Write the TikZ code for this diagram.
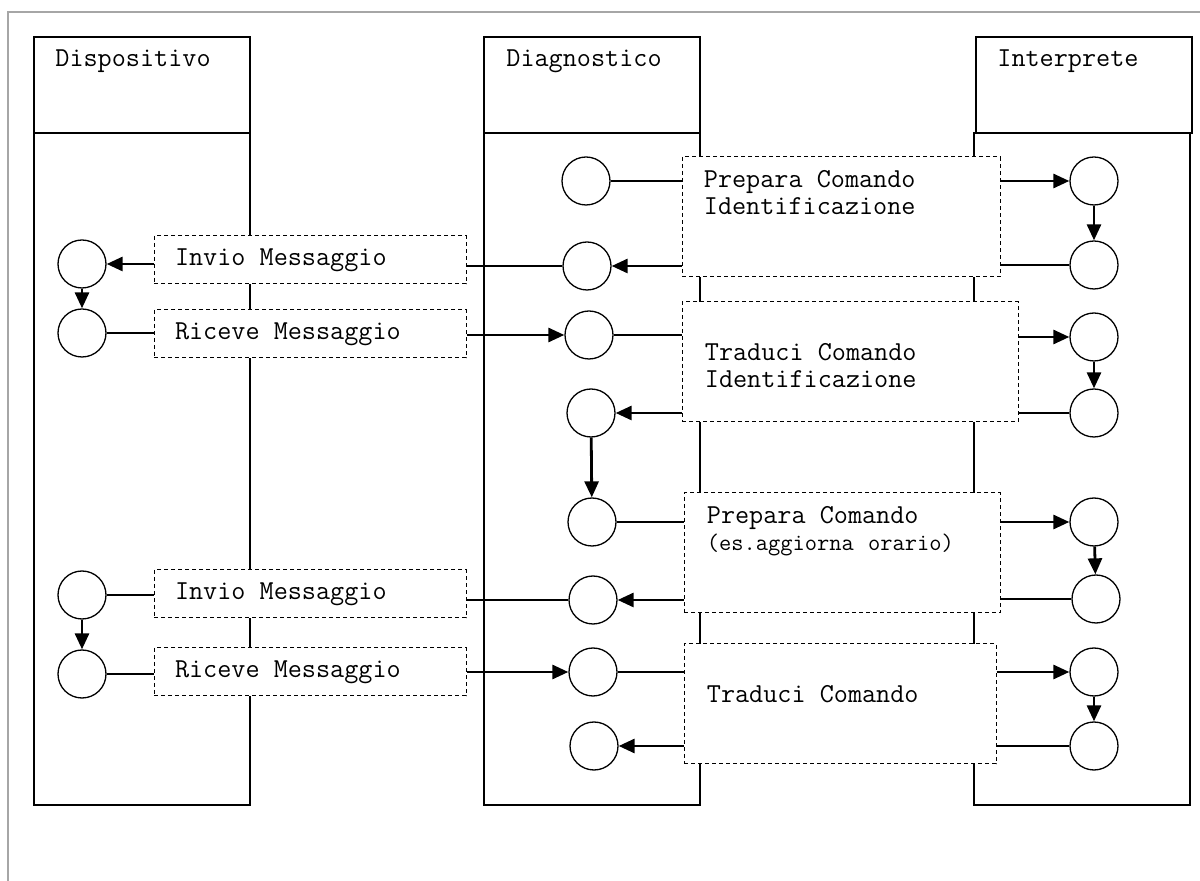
\documentclass[tikz,border=0pt]{standalone}
\usetikzlibrary{arrows.meta,positioning}

\begin{document}
\begin{tikzpicture}[
    x=0.5pt, y=-0.5pt,
    font=\ttfamily\fontsize{13.7}{13.5}\selectfont,
    every node/.append style={execute at begin node={\spaceskip=\fontdimen2\font\relax}},
    lane/.style={draw, line width=0.6pt},
    state/.style={circle, draw, fill=white, minimum size=24pt, inner sep=0pt, line width=0.65pt},
    msgbox/.style={draw, dash pattern=on 2pt off 1.5pt, fill=white, line width=0.5pt,
        minimum width=156pt, minimum height=24pt, text width=135pt, inner xsep=10.5pt, align=left},
    taskbox/.style={draw, dash pattern=on 2pt off 1.5pt, fill=white, line width=0.5pt,
        minimum height=60pt, minimum width=#1, inner sep=0pt},
    boxtext/.style={align=left, inner sep=0pt, anchor=north west},
    head/.style={anchor=west, inner sep=0pt},
    link/.style={line width=1.4pt},
    arr/.style={link, -{Triangle[length=8pt,width=7pt]}}
]
    \useasboundingbox (0,0) rectangle (1200,881);

    % Outer frame (cropped)
    \draw[gray!70, line width=1pt] (1200,12) -- (8,12) -- (8,881);

    % Lanes
    \draw[lane] (34,37) rectangle (250,133);
    \draw[lane] (34,133) rectangle (250,805);
    \draw[lane] (484,37) rectangle (700,133);
    \draw[lane] (484,133) rectangle (700,805);
    \draw[lane] (976,37) rectangle (1192,133);
    \draw[lane] (974,133) rectangle (1190,805);

    % Lane headers
    \node[head] (hDisp) at (55,61) {Dispositivo};
    \node[head] (hDiag) at (506,61) {Diagnostico};
    \node[head] (hInt) at (997,61) {Interprete};

    % Message boxes
    \node[msgbox] (m1) at (310,260) {Invio Messaggio};
    \node[msgbox] (m2) at (310,334) {Riceve Messaggio};
    \node[msgbox] (m3) at (310,594) {Invio Messaggio};
    \node[msgbox] (m4) at (310,672) {Riceve Messaggio};

    % Task boxes
    \node[taskbox=159pt] (B1) at (841,217) {};
    \node[taskbox=168pt] (B2) at (850,362) {};
    \node[taskbox=158pt] (B3) at (842,553) {};
    \node[taskbox=156pt] (B4) at (840,704) {};

    % Task texts
    \node[boxtext, below right=7pt and 11pt of B1.north west] (t1) {Prepara Comando\\Identificazione};
    \node[boxtext, below right=21pt and 11.5pt of B2.north west] (t2) {Traduci Comando\\Identificazione};
    \node[boxtext, below right=7pt and 11.5pt of B3.north west] (t3)
        {Prepara Comando\\{\fontsize{11.9}{13.5}\selectfont (es.aggiorna orario)}};
    \node[boxtext, below right=21pt and 11.5pt of B4.north west] (t4) {Traduci Comando};

    % States - Dispositivo
    \node[state] (d1) at (82,264) {};
    \node[state] (d2) at (82,333) {};
    \node[state] (d3) at (82,595) {};
    \node[state] (d4) at (82,674) {};

    % States - Diagnostico
    \node[state] (c1) at (586,181) {};
    \node[state] (c2) at (587,266) {};
    \node[state] (c3) at (589,335) {};
    \node[state] (c4) at (591,413) {};
    \node[state] (c5) at (592,522) {};
    \node[state] (c6) at (593,600) {};
    \node[state] (c7) at (593,672) {};
    \node[state] (c8) at (594,746) {};

    % States - Interprete
    \node[state] (i1) at (1094,181) {};
    \node[state] (i2) at (1094,265) {};
    \node[state] (i3) at (1094,337) {};
    \node[state] (i4) at (1094,413) {};
    \node[state] (i5) at (1094,522) {};
    \node[state] (i6) at (1096,599) {};
    \node[state] (i7) at (1094,672) {};
    \node[state] (i8) at (1094,746) {};

    % Identificazione: prepara
    \draw[link] (c1) -- (c1 -| B1.west);
    \draw[arr] (B1.east |- i1) -- (i1);
    \draw[arr] (i1) -- (i2);
    \draw[link] (i2) -- (i2 -| B1.east);
    \draw[arr] (B1.west |- c2) -- (c2);
    \draw[link] (c2) -- (c2 -| m1.east);
    \draw[arr] (m1.west |- d1) -- (d1);
    \draw[arr] (d1) -- (d2);
    \draw[link] (d2) -- (d2 -| m2.west);
    \draw[arr] (m2.east |- c3) -- (c3);

    % Identificazione: traduci
    \draw[link] (c3) -- (c3 -| B2.west);
    \draw[arr] (B2.east |- i3) -- (i3);
    \draw[arr] (i3) -- (i4);
    \draw[link] (i4) -- (i4 -| B2.east);
    \draw[arr] (B2.west |- c4) -- (c4);
    \draw[arr] (c4) -- (c5);

    % Comando: prepara
    \draw[link] (c5) -- (c5 -| B3.west);
    \draw[arr] (B3.east |- i5) -- (i5);
    \draw[arr] (i5) -- (i6);
    \draw[link] (i6) -- (i6 -| B3.east);
    \draw[arr] (B3.west |- c6) -- (c6);
    \draw[link] (c6) -- (c6 -| m3.east);
    \draw[link] (d3) -- (d3 -| m3.west);
    \draw[arr] (d3) -- (d4);
    \draw[link] (d4) -- (d4 -| m4.west);
    \draw[arr] (m4.east |- c7) -- (c7);

    % Comando: traduci
    \draw[link] (c7) -- (c7 -| B4.west);
    \draw[arr] (B4.east |- i7) -- (i7);
    \draw[arr] (i7) -- (i8);
    \draw[link] (i8) -- (i8 -| B4.east);
    \draw[arr] (B4.west |- c8) -- (c8);

\end{tikzpicture}
\end{document}
